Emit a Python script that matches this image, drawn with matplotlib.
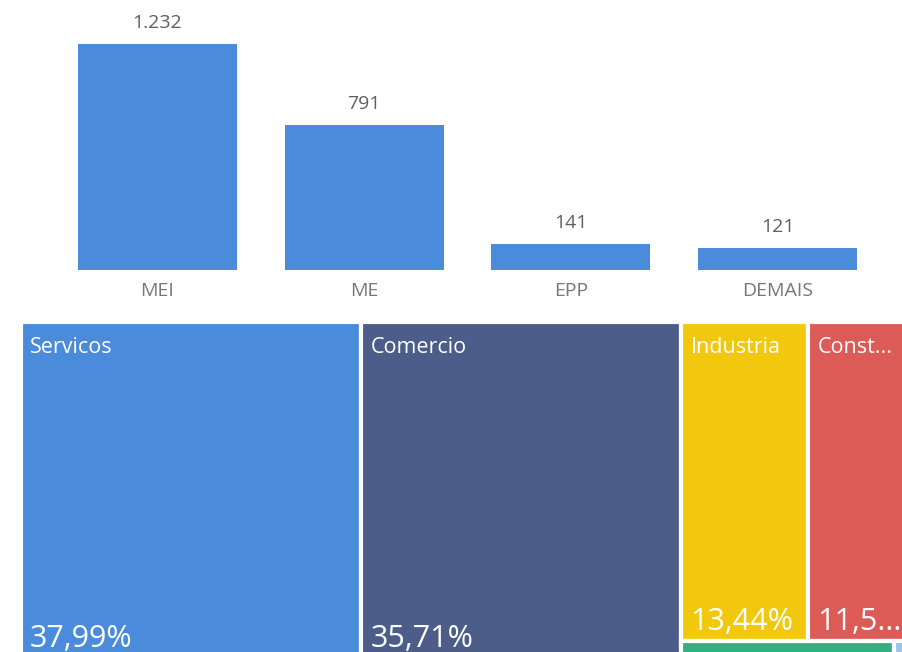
import matplotlib.pyplot as plt
from matplotlib.patches import Rectangle

plt.rcParams['font.family'] = ['Open Sans', 'DejaVu Sans']

# porte das empresas
portes = ["MEI", "ME", "EPP", "DEMAIS"]
qtd_porte = [1232, 791, 141, 121]

# setores (treemap)
setores = ["Servicos", "Comercio", "Industria", "Construcao", "Agropecuaria", "Outros"]
pct_setor = [37.99, 35.71, 13.44, 11.52, 1.21, 0.13]
cores_setor = ['#4A8BDB', '#4B5D88', '#F2C80F', '#DD5B57', '#35AF82', '#9FC4EA']

# colunas do treemap -> linhas -> indices dos setores
layout = [[[0]], [[1]], [[2, 3], [4, 5]]]


def fmt_milhar(v):
    return f"{v:,}".replace(",", ".")


def fmt_pct(v):
    return f"{v:.2f}%".replace(".", ",")


def fit_text(txt, renderer, max_w, full):
    # corta o texto com "..." se nao couber no retangulo
    s = full
    txt.set_text(s)
    while txt.get_window_extent(renderer).width > max_w and len(s) > 1:
        s = s[:-1]
        txt.set_text(s + "...")


fig = plt.figure(figsize=(9.02, 6.52), dpi=100)
W, H = 902, 652

# ---- barras ----
ax = fig.add_axes([54 / W, (H - 270) / H, 827 / W, 270 / H])
ax.bar(range(len(portes)), qtd_porte, width=0.77, color='#4A8BDB')
ax.set_xlim(-0.5, len(portes) - 0.5)
ax.set_ylim(0, 1232 * 270 / 226)
ax.set_xticks(range(len(portes)))
ax.set_xticklabels(portes, fontsize=14, color='#777777')
ax.tick_params(axis='x', length=0, pad=8.5)
ax.set_yticks([])
for s in ax.spines.values():
    s.set_visible(False)
for i, v in enumerate(qtd_porte):
    ax.annotate(fmt_milhar(v), (i, v), xytext=(0, 11.5), textcoords='offset points',
                ha='center', va='baseline', fontsize=14, color='#5f5f5f')

# ---- treemap ----
tx0, ty0, tw, th = 21, 322, 896, 336
axt = fig.add_axes([tx0 / W, (H - ty0 - th) / H, tw / W, th / H])
axt.set_xlim(0, 1)
axt.set_ylim(1, 0)
axt.axis('off')

fig.canvas.draw()
renderer = fig.canvas.get_renderer()

total = sum(pct_setor)
x = 0
for col in layout:
    col_tot = sum(pct_setor[i] for row in col for i in row)
    cw = col_tot / total
    y = 0
    for row in col:
        row_tot = sum(pct_setor[i] for i in row)
        rh = row_tot / col_tot
        xx = x
        for i in row:
            rw = cw * pct_setor[i] / row_tot
            axt.add_patch(Rectangle((xx, y), rw, rh, facecolor=cores_setor[i],
                                    edgecolor='white', linewidth=3))
            if rh * th > 60:
                t1 = axt.annotate("", (xx, y), xytext=(6.5, -11), textcoords='offset points',
                                  ha='left', va='top', fontsize=15.5, color='white')
                fit_text(t1, renderer, rw * tw - 29, setores[i])
                t2 = axt.annotate("", (xx, y + rh), xytext=(6.5, 8), textcoords='offset points',
                                  ha='left', va='baseline', fontsize=22, color='white')
                fit_text(t2, renderer, rw * tw - 8, fmt_pct(pct_setor[i]))
            xx += rw
        y += rh
    x += cw

fig.savefig("out.png", dpi=100)
